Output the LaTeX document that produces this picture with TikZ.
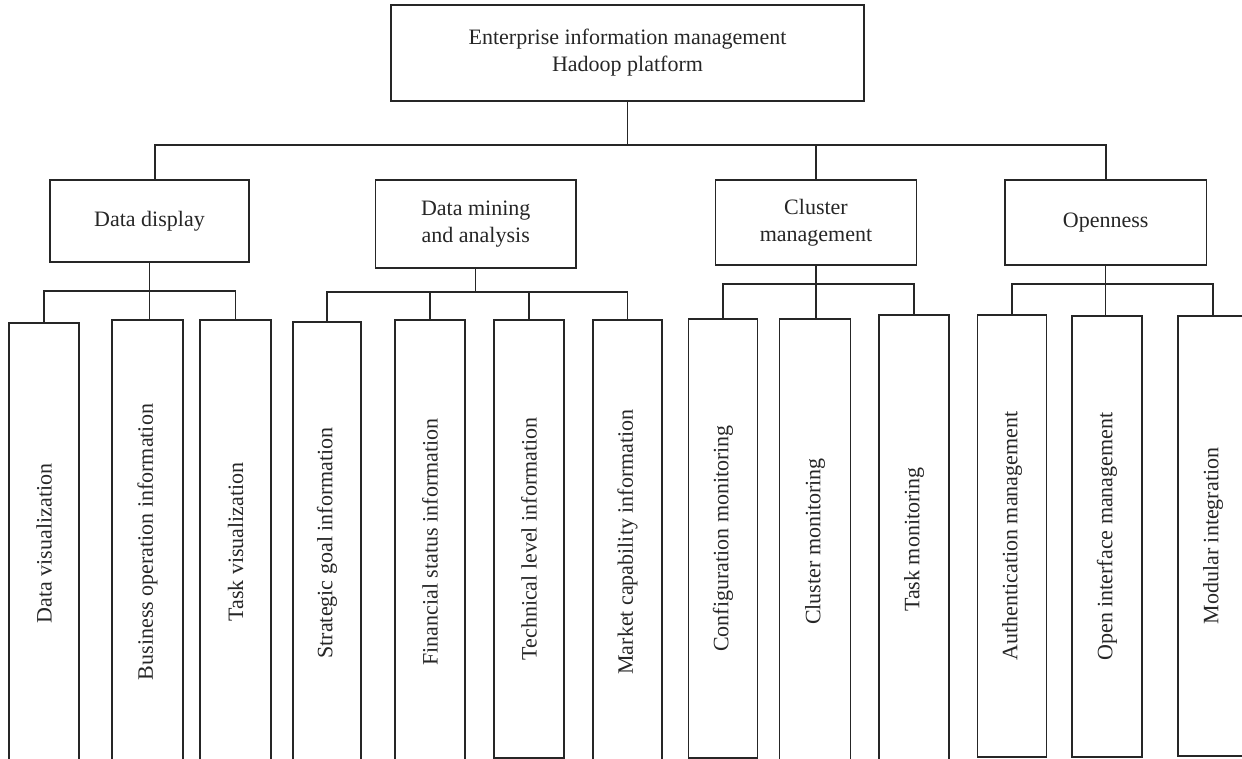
\documentclass[tikz,border=0pt]{standalone}
\usepackage{fontspec}
\setmainfont{Liberation Serif}
\begin{document}
\begin{tikzpicture}[x=1pt,y=-1pt,
  box/.style={draw=black!85, line width=1.3pt, inner sep=0pt, align=center,
              text=black!85, font=\fontsize{22}{27}\selectfont},
  leaf/.style={draw=black!85, line width=1.3pt, inner sep=0pt, rotate=90,
              text=black!85, font=\fontsize{22}{27}\selectfont},
  conn/.style={draw=black!85, line width=1.3pt}]
\useasboundingbox (0,0) rectangle (1242,759);

% root
\node[box, minimum width=473pt, minimum height=96pt] (root) at (627.5,53)
  {Enterprise information management\\Hadoop platform};

% level 2
\node[box, minimum width=199pt, minimum height=82pt] (dd) at (149.5,221) {Data display};
\node[box, minimum width=200.5pt, minimum height=88pt] (dm) at (475.75,224) {Data mining\\and analysis};
\node[box, minimum width=201pt, minimum height=85pt] (cm) at (816,222.5) {Cluster\\management};
\node[box, minimum width=201.5pt, minimum height=85pt] (op) at (1105.75,222.5) {Openness};

% leaves (minimum width = vertical length, minimum height = horizontal width)
\node[leaf, minimum width=441pt, minimum height=70pt] (dv) at (44,543.5) {Data visualization};
\node[leaf, minimum width=444pt, minimum height=71pt] (bo) at (147.5,542) {Business operation information};
\node[leaf, minimum width=444pt, minimum height=71pt] (tv) at (235.5,542) {Task visualization};
\node[leaf, minimum width=442pt, minimum height=68pt] (sg) at (327,543) {Strategic goal information};
\node[leaf, minimum width=444pt, minimum height=70pt] (fs) at (430,542) {Financial status information};
\node[leaf, minimum width=438pt, minimum height=70pt] (tl) at (529,539) {Technical level information};
\node[leaf, minimum width=444pt, minimum height=69pt] (mc) at (627.5,542) {Market capability information};
\node[leaf, minimum width=439pt, minimum height=68.5pt] (cf) at (723,538.5) {Configuration monitoring};
\node[leaf, minimum width=445pt, minimum height=70.5pt] (cl) at (815,541.5) {Cluster monitoring};
\node[leaf, minimum width=449pt, minimum height=70pt] (tm) at (914,539.5) {Task monitoring};
\node[leaf, minimum width=442pt, minimum height=69.5pt] (au) at (1012,536) {Authentication management};
\node[leaf, minimum width=441pt, minimum height=70pt] (oi) at (1107,536.5) {Open interface management};
\node[leaf, minimum width=440pt, minimum height=70pt] (mi) at (1213,536) {Modular integration};

% top bar
\coordinate (bL) at (155,145);
\coordinate (bR) at (1106,145);
\draw[conn] (root.south) -- (root.south |- bL);
\draw[conn] (bL |- dd.north) -- (bL) -- (bR) -- (bR |- op.north);
\draw[conn] (cm.north |- bL) -- (cm.north);

% data display group
\coordinate (ddb) at (150,291);
\draw[conn] (dd.south) -- (dd.south |- bo.east);
\draw[conn] (dv.east) |- (tv.east |- ddb) -- (tv.east);

% data mining group
\coordinate (dmb) at (475.75,292);
\draw[conn] (dm.south) -- (dmb);
\draw[conn] (sg.east) |- (mc.east |- dmb) -- (mc.east);
\draw[conn] (fs.east |- dmb) -- (fs.east);
\draw[conn] (tl.east |- dmb) -- (tl.east);

% cluster group
\coordinate (cmb) at (816,284);
\draw[conn] (cm.south) -- (cm.south |- cl.east);
\draw[conn] (cf.east) |- (tm.east |- cmb) -- (tm.east);

% openness group
\coordinate (opb) at (1105.75,284);
\draw[conn] (op.south) -- (op.south |- oi.east);
\draw[conn] (au.east) |- (mi.east |- opb) -- (mi.east);
\end{tikzpicture}
\end{document}
